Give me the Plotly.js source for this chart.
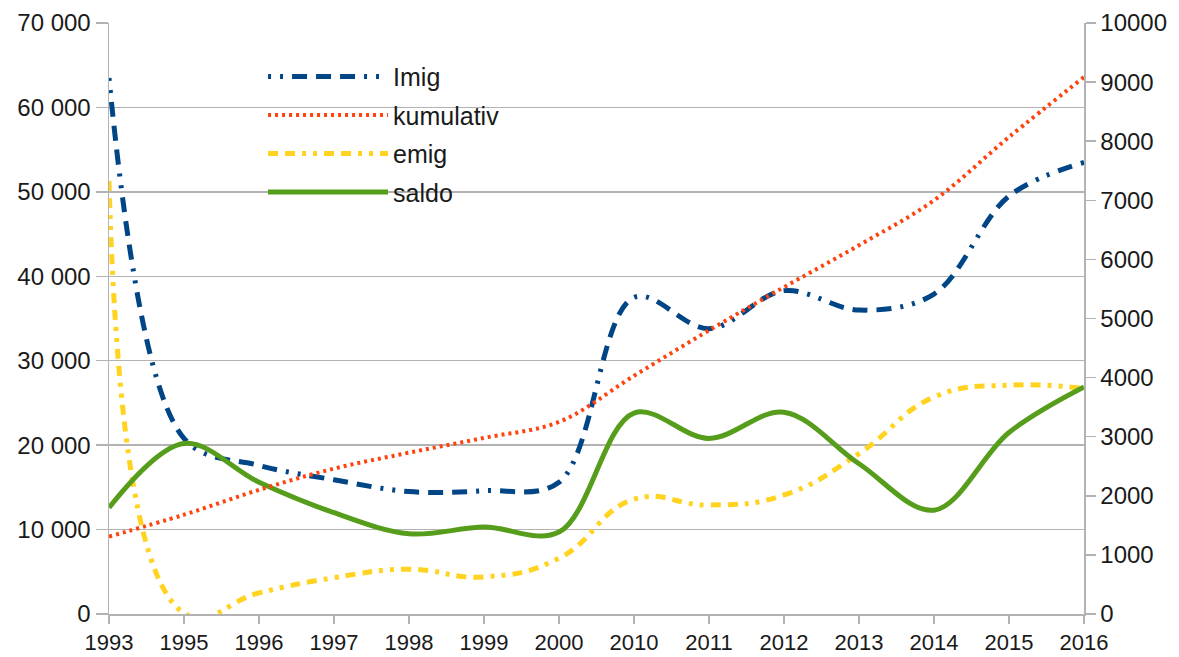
<!DOCTYPE html>
<html>
<head>
<meta charset="utf-8">
<script src="https://cdn.plot.ly/plotly-3.0.1.min.js"></script>
<style>html,body{margin:0;padding:0;background:#fff;}#chart{width:1179px;height:657px;}</style>
</head>
<body>
<div id="chart"></div>
<script>
// Categories (x axis)
var categories = ['1993','1995','1996','1997','1998','1999','2000','2010','2011','2012','2013','2014','2015','2016'];
// Series on left axis
var imig  = [63500, 20800, 17600, 15900, 14500, 14600, 15600, 37500, 33800, 38300, 36000, 37900, 49500, 53500];
var emig  = [51300,   100,  2500,  4300,  5300,  4400,  6600, 13600, 12900, 14100, 19000, 25700, 27100, 26700];
var saldo = [12600, 20200, 15600, 12000,  9500, 10300,  9700, 23800, 20800, 23900, 17800, 12300, 21500, 26900];
// Series on right axis
var kumulativ = [1310, 1680, 2100, 2460, 2730, 2980, 3250, 4030, 4800, 5530, 6240, 7000, 8070, 9085];
// Tick labels
var leftTickVals = [0, 10000, 20000, 30000, 40000, 50000, 60000, 70000];
var leftTickText = ['0', '10 000', '20 000', '30 000', '40 000', '50 000', '60 000', '70 000'];
var rightTickVals = [0,1000,2000,3000,4000,5000,6000,7000,8000,9000,10000];
var rightTickText = ['0','1000','2000','3000','4000','5000','6000','7000','8000','9000','10000'];

var grid = '#b3b3b3';
var font = 'Liberation Sans, Arial, sans-serif';

var traces = [
  {x: categories, y: imig, name: 'Imig', type: 'scatter', mode: 'lines', legendgroup: 'a',
   line: {color: '#004586', width: 5, shape: 'spline', smoothing: 1, dash: '3px,9px,3px,9px,15px,9px,15px,9px,15px,9px'}},
  {x: categories, y: kumulativ, name: 'kumulativ', type: 'scatter', mode: 'lines', yaxis: 'y2', legendgroup: 'b',
   line: {color: '#ff420e', width: 4, shape: 'spline', smoothing: 1, dash: '3px,4px'}},
  {x: categories, y: emig, name: 'emig', type: 'scatter', mode: 'lines', legendgroup: 'c',
   line: {color: '#ffd320', width: 5, shape: 'spline', smoothing: 1.3, dash: '10px,7px,10px,7px,4px,7px,4px,7px'}},
  {x: categories, y: saldo, name: 'saldo', type: 'scatter', mode: 'lines', legendgroup: 'd',
   line: {color: '#579d1c', width: 5, shape: 'spline', smoothing: 1}}
];

var layout = {
  width: 1179, height: 657,
  margin: {l: 109, r: 95, t: 23, b: 43},
  paper_bgcolor: '#ffffff', plot_bgcolor: '#ffffff',
  font: {family: font, size: 24, color: '#1a1a1a'},
  showlegend: true,
  legend: {x: 0.158, y: 0.948, xanchor: 'left', yanchor: 'top', bgcolor: 'rgba(0,0,0,0)',
           font: {size: 25, color: '#1a1a1a'}, itemwidth: 120, tracegroupgap: 3, traceorder: 'grouped'},
  xaxis: {type: 'category', range: [0, 13], showgrid: false, showline: true, linecolor: grid, linewidth: 1.5,
          ticks: 'outside', ticklen: 8, tickcolor: grid, tickwidth: 1.5, zeroline: false, fixedrange: true,
          tickfont: {size: 22}},
  yaxis: {range: [0, 70000], tickvals: leftTickVals, ticktext: leftTickText, showgrid: true, gridcolor: grid, gridwidth: 1.5,
          showline: true, linecolor: grid, linewidth: 1.5, ticks: 'outside', ticklen: 12, tickcolor: grid, tickwidth: 1.5,
          zeroline: false, fixedrange: true},
  yaxis2: {overlaying: 'y', side: 'right', range: [0, 10000], tickvals: rightTickVals, ticktext: rightTickText,
           showgrid: false, showline: true, linecolor: grid, linewidth: 1.5, ticks: 'outside', ticklen: 10,
           tickcolor: grid, tickwidth: 1.5, zeroline: false, fixedrange: true}
};

Plotly.newPlot('chart', traces, layout, {displayModeBar: false, staticPlot: true});
</script>
</body>
</html>
